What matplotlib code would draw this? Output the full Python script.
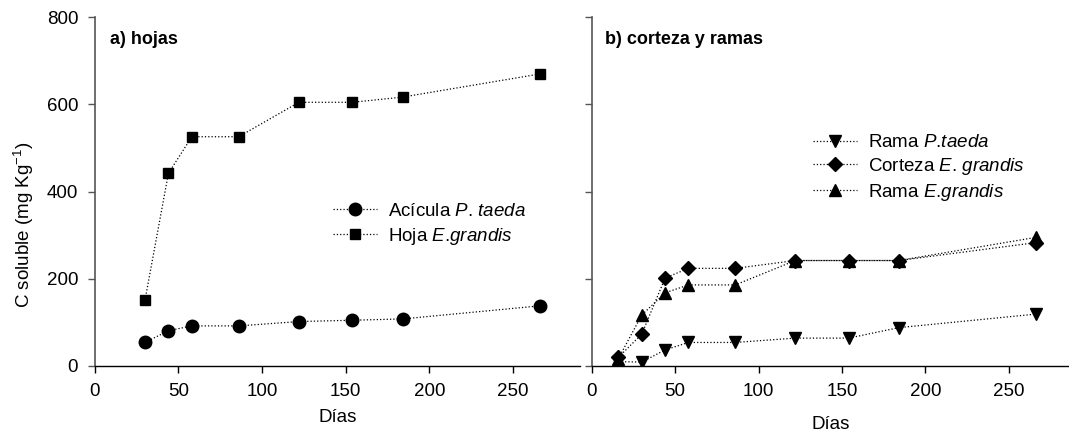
import matplotlib
matplotlib.use("Agg")
import matplotlib.pyplot as plt

plt.rcParams['font.family'] = ['Liberation Sans', 'DejaVu Sans']
plt.rcParams['mathtext.fontset'] = 'custom'
plt.rcParams['mathtext.rm'] = 'Liberation Sans'
plt.rcParams['mathtext.it'] = 'Liberation Sans:italic'

# Panel a) hojas
dias_a = [30, 44, 58, 86, 122, 154, 184, 266]
acicula_taeda = [54, 81, 92, 92, 102, 105, 108, 138]
hoja_grandis = [151, 442, 526, 526, 605, 605, 617, 670]

# Panel b) corteza y ramas
dias_b = [16, 30, 44, 58, 86, 122, 154, 184, 266]
rama_taeda = [10, 9, 37, 54, 54, 64, 64, 88, 119]
corteza_grandis = [20, 73, 202, 224, 224, 242, 242, 242, 283]
rama_grandis = [17, 117, 168, 186, 186, 242, 242, 242, 295]

W, H = 1069, 437
fig = plt.figure(figsize=(W/100, H/100), dpi=100)

def px_axes(l, r, b, t):
    return fig.add_axes([l/W, 1 - b/H, (r-l)/W, (b-t)/H])

axA = px_axes(94.8, 580, 366, 17.3)
axB = px_axes(591.7, 1069, 366, 17.3)

line_kw = dict(color='black', linestyle=':', linewidth=0.9)

axA.plot(dias_a, acicula_taeda, marker='o', markersize=9, label=r'Acícula $\mathit{P}$. $\mathit{taeda}$', **line_kw)
axA.plot(dias_a, hoja_grandis, marker='s', markersize=7.8, label=r'Hoja $\mathit{E}$.$\mathit{grandis}$', **line_kw)

axB.plot(dias_b, rama_taeda, marker='v', markersize=8.5, label=r'Rama $\mathit{P}$.$\mathit{taeda}$', **line_kw)
axB.plot(dias_b, corteza_grandis, marker='D', markersize=7.5, label=r'Corteza $\mathit{E}$. $\mathit{grandis}$', **line_kw)
axB.plot(dias_b, rama_grandis, marker='^', markersize=8.5, label=r'Rama $\mathit{E}$.$\mathit{grandis}$', **line_kw)

for ax in (axA, axB):
    ax.set_ylim(0, 800)
    ax.set_yticks([0, 200, 400, 600, 800])
    ax.set_xticks([0, 50, 100, 150, 200, 250])
    for s in ('top', 'right'):
        ax.spines[s].set_visible(False)
    ax.spines['left'].set_color('#555555')
    ax.spines['left'].set_linewidth(1.2)
    ax.spines['bottom'].set_color('black')
    ax.spines['bottom'].set_linewidth(1.0)
    ax.tick_params(axis='x', direction='out', length=5, width=1, color='black',
                   labelsize=13.5, pad=7.5)
    ax.tick_params(axis='y', direction='out', length=5, width=1, color='#555555',
                   labelsize=13.5, pad=7)
    ax.set_xlabel('Días', fontsize=13.5)

axA.set_xlim(0, 290)
axB.set_xlim(0, 286)
axB.set_yticklabels([])

axA.set_ylabel(r'C soluble (mg Kg$^{\mathregular{-1}}$)', fontsize=13.5)
axA.yaxis.set_label_coords(-0.121, 0.404)
axA.xaxis.set_label_coords(0.5, -0.149)
axB.xaxis.set_label_coords(0.5, -0.169)
axA.xaxis.label.set_va('center')
axB.xaxis.label.set_va('center')

axA.text(0.031, 0.935, 'a) hojas', transform=axA.transAxes, fontsize=13,
         fontweight='bold', va='center', ha='left')
axB.text(0.028, 0.935, 'b) corteza y ramas', transform=axB.transAxes, fontsize=13,
         fontweight='bold', va='center', ha='left')

leg_kw = dict(loc='upper left', frameon=False, fontsize=13.5, handlelength=2.35,
              handletextpad=0.6, borderpad=0, borderaxespad=0)
axA.legend(bbox_to_anchor=(0.491, 0.468), labelspacing=0.3, **leg_kw)
axB.legend(bbox_to_anchor=(0.4636, 0.665), labelspacing=0.25, **leg_kw)

fig.savefig('out.png', dpi=100)
